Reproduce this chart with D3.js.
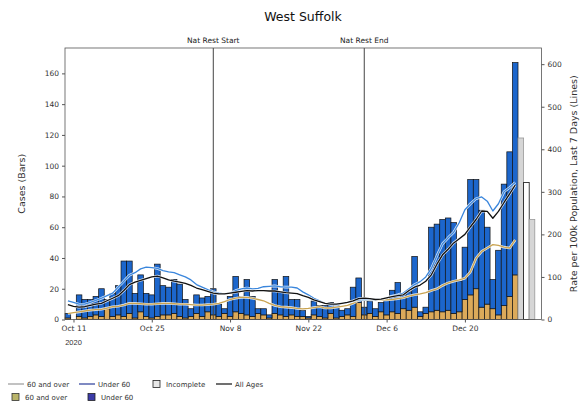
<!DOCTYPE html>
<html>
<head>
<meta charset="utf-8">
<script src="https://cdn.jsdelivr.net/npm/d3@7"></script>
<style>
  body { margin: 0; background: #fff; }
  svg { font-family: "DejaVu Sans", sans-serif; }
</style>
</head>
<body>
<svg id="chart" width="584" height="410"></svg>
<script>
// daily bars run from Oct 10 to Dec 29, then three incomplete days
const firstDay = "2020-10-10";
const over60Cases = [1, 0, 2, 1, 2, 3, 2, 7, 2, 3, 2, 4, 1, 5, 2, 1, 2, 3, 3, 4, 2, 1, 2, 4, 2, 5, 3, 2, 4, 2,
  5, 4, 3, 2, 4, 3, 1, 4, 3, 2, 3, 2, 2, 1, 3, 2, 1, 4, 1, 2, 3, 2, 11, 3, 4, 2, 5, 3, 5, 4,
  7, 6, 8, 2, 4, 5, 6, 5, 6, 4, 5, 13, 16, 20, 8, 10, 7, 3, 9, 15, 29];
const under60Cases = [3, 0, 14, 12, 11, 12, 18, 6, 15, 19, 36, 34, 16, 24, 15, 15, 34, 19, 18, 22, 21, 12, 5, 12, 12, 10, 17, 8, 3, 13,
  23, 11, 23, 13, 3, 4, 2, 22, 15, 26, 10, 11, 4, 1, 9, 7, 8, 7, 9, 4, 4, 19, 16, 5, 8, 5, 6, 10, 14, 20,
  10, 12, 33, 3, 4, 55, 56, 60, 60, 59, 20, 34, 75, 71, 63, 50, 19, 42, 79, 94, 138];
const incompleteDays = ["2020-12-30", "2020-12-31", "2021-01-01"];
const incompleteCases = [118, 89, 65];

// 7 day rates per 100k (right axis)
const rateUnder60 = [44, 40, 36, 36, 40, 45, 50, 56, 62, 76, 90, 104, 110, 119, 123, 122, 120, 115, 112, 110, 105, 100, 93, 82, 76, 70, 65, 62, 60, 62,
  68, 72, 74, 72, 73, 77, 78, 79, 77, 76, 76, 74, 65, 58, 50, 44, 38, 36, 36, 38, 40, 43, 46, 47, 47, 47, 48, 51, 55, 58,
  62, 72, 82, 89, 100, 120, 150, 178, 192, 205, 228, 258, 272, 284, 288, 278, 255, 272, 300, 310, 322];
const rateAllAges = [35, 31, 29, 30, 33, 36, 38, 44, 50, 56, 68, 82, 88, 92, 96, 100, 102, 98, 93, 90, 88, 85, 80, 74, 70, 66, 62, 60, 60, 62,
  64, 66, 68, 67, 68, 68, 67, 67, 65, 63, 62, 61, 56, 52, 46, 42, 38, 36, 36, 38, 40, 44, 49, 50, 49, 47, 48, 51, 54, 56,
  58, 68, 76, 81, 90, 105, 130, 152, 165, 180, 190, 200, 218, 235, 255, 254, 238, 254, 275, 295, 316];
const rateOver60 = [14, 16, 18, 20, 22, 23, 24, 27, 30, 31, 34, 38, 38, 37, 36, 36, 37, 38, 38, 37, 36, 36, 35, 34, 34, 35, 36, 38, 42, 47,
  50, 52, 52, 50, 47, 44, 38, 33, 30, 29, 28, 26, 25, 26, 28, 30, 27, 27, 29, 31, 33, 38, 45, 47, 46, 46, 46, 46, 47, 49,
  51, 55, 58, 60, 63, 68, 72, 80, 86, 90, 93, 97, 112, 144, 160, 168, 176, 174, 170, 168, 187];

const tickDays = ["2020-10-11", "2020-10-25", "2020-11-08", "2020-11-22", "2020-12-06", "2020-12-20"];
const tickLabels = ["Oct 11", "Oct 25", "Nov 8", "Nov 22", "Dec 6", "Dec 20"];
const leftTicks = [0, 20, 40, 60, 80, 100, 120, 140, 160];
const rightTicks = [0, 100, 200, 300, 400, 500, 600];
const markers = [{ day: "2020-11-05", label: "Nat Rest Start" }, { day: "2020-12-02", label: "Nat Rest End" }];

function buildAreaChart(svgid) {
  const svg = d3.select(svgid);
  const parse = d3.utcParse("%Y-%m-%d");
  const dayMs = 864e5;

  const start = parse(firstDay);
  const days = d3.utcDay.range(start, d3.utcDay.offset(start, over60Cases.length));
  const rows = days.map((d, i) => ({ date: d, over: over60Cases[i], under: under60Cases[i],
    rUnder: rateUnder60[i], rAll: rateAllAges[i], rOver: rateOver60[i] }));

  const left = 65, right = 541.5, top = 48, bottom = 319.5;

  const x = d3.scaleUtc()
    .domain([new Date(parse("2020-10-11") - 1.52 * dayMs), new Date(+parse("2020-10-11") + 83.7 * dayMs)])
    .range([left, right]);
  const yCases = d3.scaleLinear().domain([0, 176.5]).range([bottom, top]);
  const yRate = d3.scaleLinear().domain([0, 638]).range([bottom, top]);
  const bw = x(new Date(dayMs)) - x(new Date(0));

  const blue = "#1c66cc", tan = "#dcaa5a";

  // bars: 60 and over at the bottom, under 60 stacked on top
  svg.append("g").selectAll("rect")
    .data(rows).enter().append("rect")
    .attr("x", d => x(d.date) - bw / 2)
    .attr("y", d => yCases(d.over))
    .attr("width", bw)
    .attr("height", d => yCases(0) - yCases(d.over))
    .attr("fill", tan).attr("stroke", "#111").attr("stroke-width", 0.7);
  svg.append("g").selectAll("rect")
    .data(rows).enter().append("rect")
    .attr("x", d => x(d.date) - bw / 2)
    .attr("y", d => yCases(d.over + d.under))
    .attr("width", bw)
    .attr("height", d => yCases(d.over) - yCases(d.over + d.under))
    .attr("fill", blue).attr("stroke", "#111").attr("stroke-width", 0.7);

  // incomplete days
  const incFill = ["#d6d6d6", "#ffffff", "#d6d6d6"];
  const incEdge = ["#999", "#111", "#999"];
  svg.append("g").selectAll("rect")
    .data(incompleteDays.map((d, i) => ({ date: parse(d), v: incompleteCases[i], i })))
    .enter().append("rect")
    .attr("x", d => x(d.date) - bw / 2)
    .attr("y", d => yCases(d.v))
    .attr("width", bw)
    .attr("height", d => yCases(0) - yCases(d.v))
    .attr("fill", d => incFill[d.i]).attr("stroke", d => incEdge[d.i]).attr("stroke-width", 0.8);

  // national restriction markers
  markers.forEach(m => {
    const mx = x(parse(m.day));
    svg.append("line").attr("x1", mx).attr("x2", mx).attr("y1", top).attr("y2", bottom)
      .attr("stroke", "#444").attr("stroke-width", 1);
    svg.append("text").attr("x", mx).attr("y", 43).attr("text-anchor", "middle")
      .style("font-size", "7.5px").attr("fill", "#222").text(m.label);
  });

  // rate lines with a thin white halo
  const lines = [
    { key: "rOver", color: "#c9a350" },
    { key: "rUnder", color: "#3a86dc" },
    { key: "rAll", color: "#111" }
  ];
  lines.forEach(l => {
    const gen = d3.line().x(d => x(d.date)).y(d => yRate(d[l.key]));
    svg.append("path").datum(rows).attr("d", gen)
      .attr("fill", "none").attr("stroke", "#fff").attr("stroke-width", 2.6).attr("stroke-linejoin", "round")
      .attr("stroke-opacity", 0.85);
    svg.append("path").datum(rows).attr("d", gen)
      .attr("fill", "none").attr("stroke", l.color).attr("stroke-width", 1.3).attr("stroke-linejoin", "round");
  });

  // frame
  svg.append("rect").attr("x", left).attr("y", top).attr("width", right - left).attr("height", bottom - top)
    .attr("fill", "none").attr("stroke", "#555").attr("stroke-width", 0.8);

  // axes
  const xAxis = svg.append("g")
    .attr("transform", `translate(0,${bottom})`)
    .call(d3.axisBottom(x).tickValues(tickDays.map(parse)).tickFormat((d, i) => tickLabels[i]).tickSizeOuter(0).tickSize(3));
  xAxis.select(".domain").remove();
  xAxis.append("text").attr("x", x(parse(tickDays[0]))).attr("y", 25)
    .attr("text-anchor", "middle").attr("fill", "#333").text("2020");

  const yAxisL = svg.append("g")
    .attr("transform", `translate(${left},0)`)
    .call(d3.axisLeft(yCases).tickValues(leftTicks).tickSizeOuter(0).tickSize(3));
  yAxisL.select(".domain").remove();

  const yAxisR = svg.append("g")
    .attr("transform", `translate(${right},0)`)
    .call(d3.axisRight(yRate).tickValues(rightTicks).tickSizeOuter(0).tickSize(3));
  yAxisR.select(".domain").remove();

  svg.selectAll(".tick text").style("font-size", "7.5px").attr("fill", "#333").style("font-family", "DejaVu Sans");
  svg.selectAll(".tick line").attr("stroke", "#555");
  xAxis.selectAll("text").style("font-size", "7.5px");

  // titles
  svg.append("text").attr("x", 303).attr("y", 21).attr("text-anchor", "middle")
    .style("font-size", "12.5px").attr("fill", "#111").text("West Suffolk");
  svg.append("text").attr("transform", `translate(25,${(top + bottom) / 2}) rotate(-90)`)
    .attr("text-anchor", "middle").style("font-size", "9.5px").attr("fill", "#333").text("Cases (Bars)");
  svg.append("text").attr("transform", `translate(577,${(top + bottom) / 2}) rotate(-90)`)
    .attr("text-anchor", "middle").style("font-size", "9.5px").attr("fill", "#333")
    .text("Rate per 100k Population, Last 7 Days (Lines)");

  // legend
  const lg = svg.append("g").style("font-size", "7px").attr("fill", "#333");
  const lineItem = (lx, ly, color, label) => {
    lg.append("line").attr("x1", lx).attr("x2", lx + 16).attr("y1", ly).attr("y2", ly)
      .attr("stroke", color).attr("stroke-width", 1.2);
    lg.append("text").attr("x", lx + 19).attr("y", ly + 2.5).text(label);
  };
  const patchItem = (lx, ly, color, edge, label) => {
    lg.append("rect").attr("x", lx).attr("y", ly - 3.5).attr("width", 7).attr("height", 7)
      .attr("fill", color).attr("stroke", edge).attr("stroke-width", 0.8);
    lg.append("text").attr("x", lx + 13).attr("y", ly + 2.5).text(label);
  };
  lineItem(8, 384, "#999", "60 and over");
  lineItem(79, 384, "#2b3d9a", "Under 60");
  patchItem(153, 384, "#e8e8e8", "#222", "Incomplete");
  lineItem(216, 384, "#111", "All Ages");
  patchItem(12, 397, "#b9b46a", "#333", "60 and over");
  patchItem(88, 397, "#3c3ca8", "#222", "Under 60");
}

buildAreaChart("#chart");
</script>
</body>
</html>
